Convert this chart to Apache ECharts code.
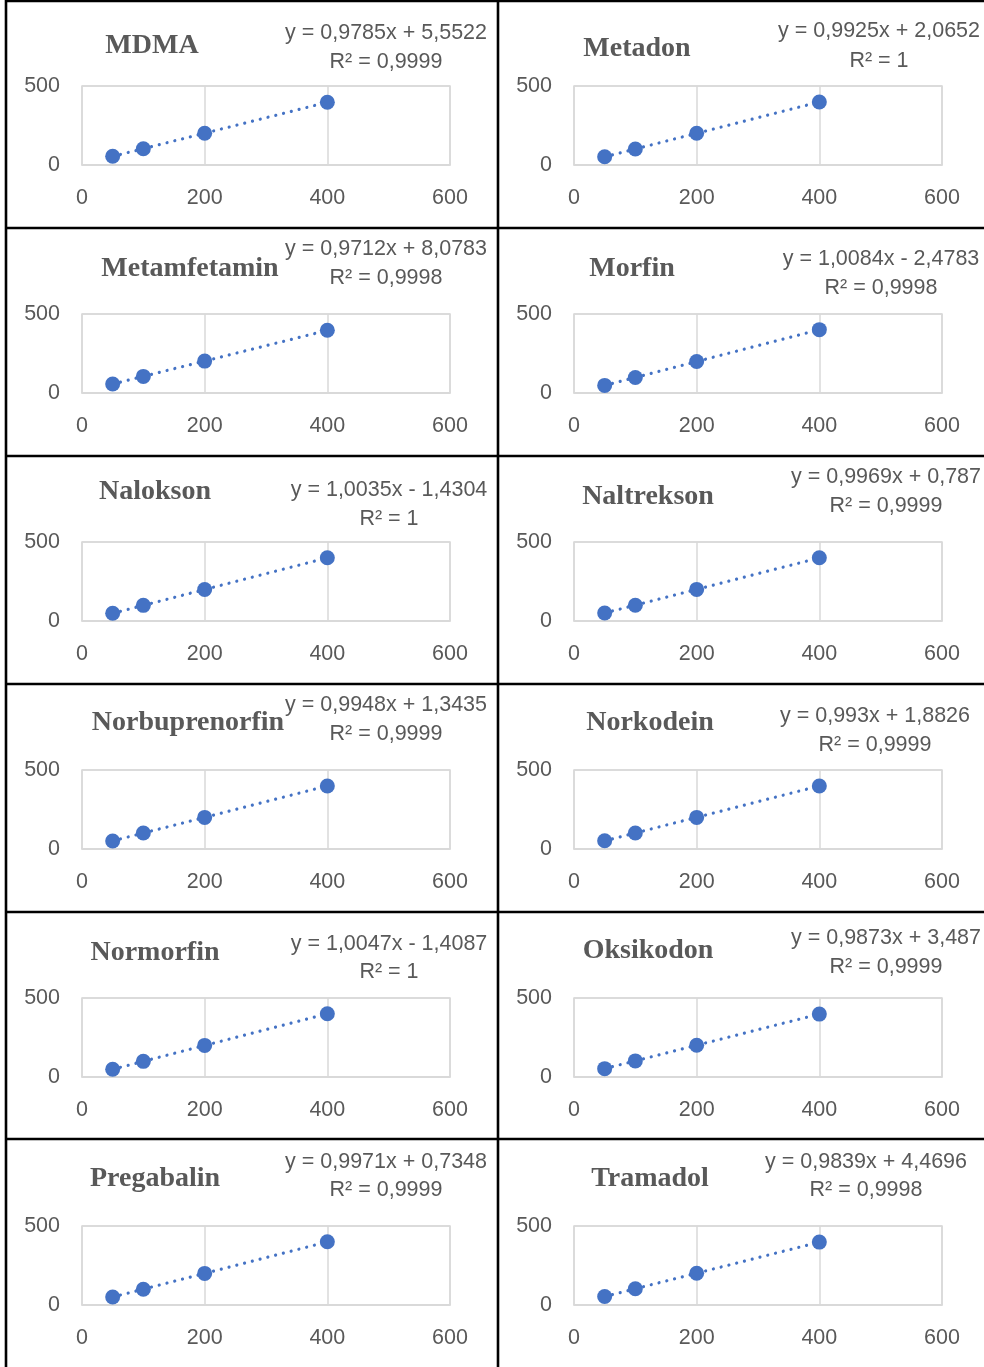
<!DOCTYPE html>
<html>
<head>
<meta charset="utf-8">
<title>Kalibrasyon eğrileri</title>
<script src="https://cdn.jsdelivr.net/npm/echarts@6/dist/echarts.min.js"></script>
<style>
  html, body { margin: 0; padding: 0; background: #ffffff; }
  #chart { width: 984px; height: 1367px; }
</style>
</head>
<body>
<div id="chart"></div>
<script>
// Calibration standards (nominal concentration) shared by every panel
const xConc = [50, 100, 200, 400];

// Measured responses per compound
const mdma           = [55, 103, 201, 397];
const metadon        = [52, 101, 201, 399];
const metamfetamin   = [57, 105, 202, 397];
const morfin         = [48, 98, 199, 401];
const nalokson       = [49, 99, 199, 400];
const naltrekson     = [51, 100, 200, 400];
const norbuprenorfin = [51, 101, 200, 399];
const norkodein      = [52, 101, 200, 399];
const normorfin      = [49, 99, 200, 400];
const oksikodon      = [53, 102, 201, 398];
const pregabalin     = [51, 100, 200, 400];
const tramadol       = [54, 103, 201, 398];

const names = ['MDMA', 'Metadon', 'Metamfetamin', 'Morfin', 'Nalokson', 'Naltrekson',
               'Norbuprenorfin', 'Norkodein', 'Normorfin', 'Oksikodon', 'Pregabalin', 'Tramadol'];
const responses = [mdma, metadon, metamfetamin, morfin, nalokson, naltrekson,
                   norbuprenorfin, norkodein, normorfin, oksikodon, pregabalin, tramadol];

// Linear fit results (y = slope * x + intercept)
const slopes     = [0.9785, 0.9925, 0.9712, 1.0084, 1.0035, 0.9969, 0.9948, 0.993, 1.0047, 0.9873, 0.9971, 0.9839];
const intercepts = [5.5522, 2.0652, 8.0783, -2.4783, -1.4304, 0.787, 1.3435, 1.8826, -1.4087, 3.487, 0.7348, 4.4696];
const rSquared   = [0.9999, 1, 0.9998, 0.9998, 1, 0.9999, 0.9999, 0.9999, 1, 0.9999, 0.9999, 0.9998];

// Axis ticks
const xTicks = { min: 0, max: 600, interval: 200 };
const yTicks = { min: 0, max: 500, interval: 500 };

// ---- layout (pixels) ----
const COL_W = 492, ROW_H = 228;
const PLOT_LEFT = 82, PLOT_TOP = 86, PLOT_W = 368, PLOT_H = 79;
// title centre [x, y] inside each cell
const titlePos = [[152, 46], [145, 49], [190, 41], [140, 41], [155, 36], [156, 41],
                  [188, 39], [158, 39], [155, 41], [156, 39], [155, 39], [158, 39]];
// equation block: centre x, equation line y, R² line y (inside each cell)
const eqPos = [[386, 33, 62], [387, 31, 61], [386, 21, 50], [389, 31, 60],
               [389, 34, 63], [394, 21, 50], [386, 21, 50], [383, 32, 61],
               [389, 32, 60], [394, 26, 55], [386, 22, 50], [374, 22, 50]];

const TEXT = '#595959';
const GRID = '#d9d9d9';
const BLUE = '#4472C4';
const SANS = '"Liberation Sans", Arial, sans-serif';
const SERIF = '"Liberation Serif", "Times New Roman", serif';

function fmt(v) { return String(v).replace('.', ','); }
function eqText(s, b) {
  return 'y = ' + fmt(s) + 'x ' + (b < 0 ? '- ' : '+ ') + fmt(Math.abs(b));
}

const grids = [], xAxes = [], yAxes = [], series = [], graphics = [];

names.forEach((name, i) => {
  const col = i % 2, row = Math.floor(i / 2);
  const ox = col * COL_W, oy = row * ROW_H;

  grids.push({ left: ox + PLOT_LEFT, top: oy + PLOT_TOP, width: PLOT_W, height: PLOT_H,
               show: true, borderColor: GRID, borderWidth: 1.5, containLabel: false });

  xAxes.push({
    type: 'value', gridIndex: i, min: xTicks.min, max: xTicks.max, interval: xTicks.interval,
    axisLine: { show: true, lineStyle: { color: GRID, width: 1.5 } },
    axisTick: { show: false },
    splitLine: { show: true, lineStyle: { color: GRID, width: 1.5 } },
    axisLabel: { color: TEXT, fontFamily: SANS, fontSize: 21.5, margin: 22 }
  });
  yAxes.push({
    type: 'value', gridIndex: i, min: yTicks.min, max: yTicks.max, interval: yTicks.interval,
    axisLine: { show: false }, axisTick: { show: false },
    splitLine: { show: true, lineStyle: { color: GRID, width: 1.5 } },
    axisLabel: { color: TEXT, fontFamily: SANS, fontSize: 21.5, margin: 22 }
  });

  // Linear trendline over the measured range
  const s = slopes[i], b = intercepts[i];
  const x0 = Math.min(...xConc), x1 = Math.max(...xConc);
  series.push({
    type: 'line', xAxisIndex: i, yAxisIndex: i, silent: true, symbol: 'none', z: 2,
    data: [[x0, s * x0 + b], [x1, s * x1 + b]],
    lineStyle: { color: BLUE, width: 3.2, type: [0.01, 8], cap: 'round' }
  });
  series.push({
    type: 'scatter', xAxisIndex: i, yAxisIndex: i, z: 3,
    symbol: 'circle', symbolSize: 15,
    itemStyle: { color: BLUE, opacity: 1 },
    data: xConc.map((x, k) => [x, responses[i][k]])
  });

  graphics.push({
    type: 'text', x: ox + titlePos[i][0], y: oy + titlePos[i][1], z: 10,
    style: { text: name, fill: TEXT, font: 'bold 28px ' + SERIF, align: 'center', verticalAlign: 'middle' }
  });
  graphics.push({
    type: 'text', x: ox + eqPos[i][0], y: oy + eqPos[i][1], z: 10,
    style: { text: eqText(s, b), fill: TEXT, font: '21.5px ' + SANS, align: 'center', verticalAlign: 'middle' }
  });
  graphics.push({
    type: 'text', x: ox + eqPos[i][0], y: oy + eqPos[i][2], z: 10,
    style: { text: 'R² = ' + fmt(rSquared[i]), fill: TEXT, font: '21.5px ' + SANS, align: 'center', verticalAlign: 'middle' }
  });
});

// Table frame around the panels
const frame = { stroke: '#000000', lineWidth: 2.6 };
graphics.push({ type: 'line', z: 20, shape: { x1: 5, y1: 1, x2: 984, y2: 1 }, style: frame });
graphics.push({ type: 'line', z: 20, shape: { x1: 6, y1: 0, x2: 6, y2: 1367 }, style: frame });
graphics.push({ type: 'line', z: 20, shape: { x1: 498, y1: 0, x2: 498, y2: 1367 }, style: frame });
[228, 456, 684, 912, 1139].forEach(y => {
  graphics.push({ type: 'line', z: 20, shape: { x1: 5, y1: y, x2: 984, y2: y }, style: frame });
});

const chart = echarts.init(document.getElementById('chart'), null, { renderer: 'canvas' });
chart.setOption({
  animation: false,
  backgroundColor: '#ffffff',
  grid: grids,
  xAxis: xAxes,
  yAxis: yAxes,
  series: series,
  graphic: { elements: graphics }
});
</script>
</body>
</html>
